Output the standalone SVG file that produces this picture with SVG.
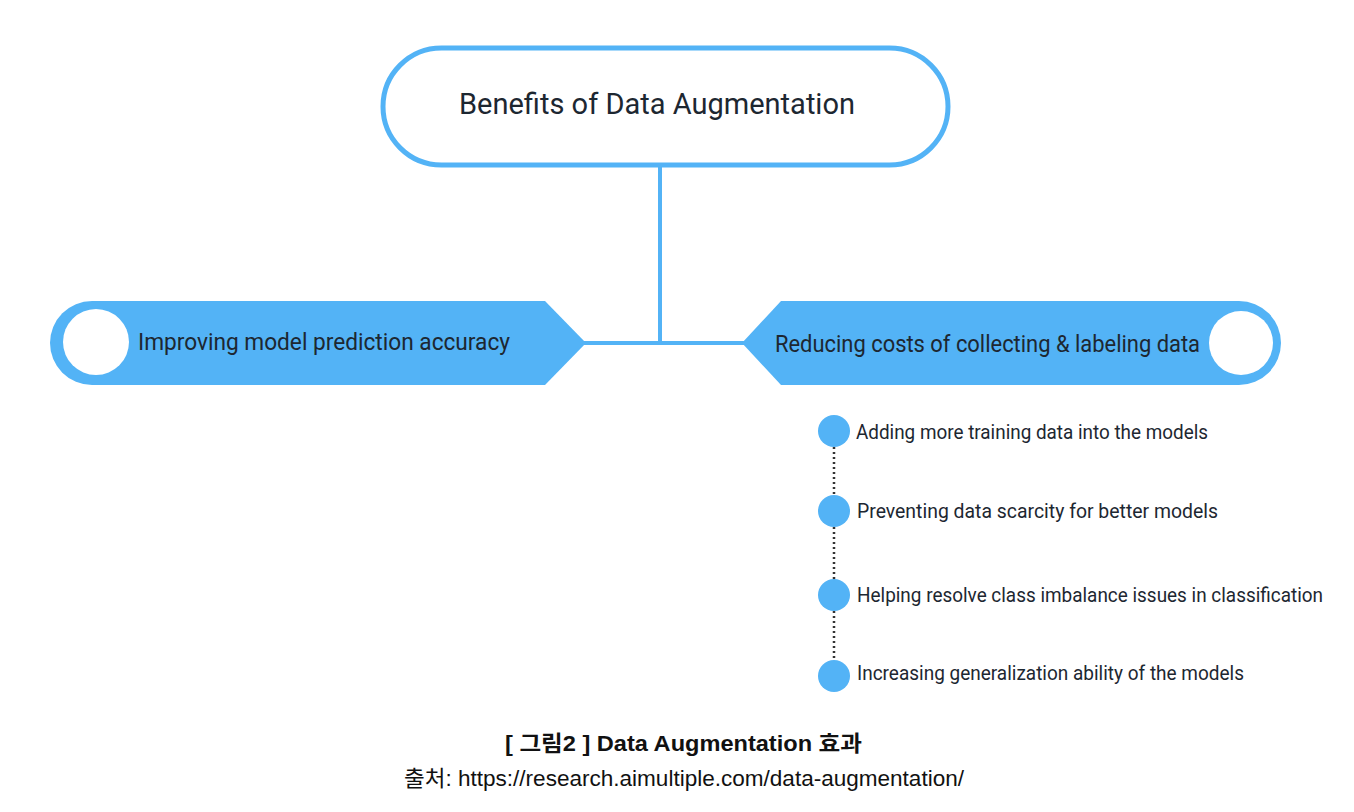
<svg xmlns="http://www.w3.org/2000/svg" width="1354" height="812" viewBox="0 0 1354 812">
<style>
.bl{fill:#53b3f6}
.wh{fill:#ffffff}
.t{font-family:Roboto,"Liberation Sans",sans-serif;fill:#1d2731}
.conn{stroke:#53b3f6;stroke-width:4;fill:none}
.dot{stroke:#333;stroke-width:2.5;stroke-dasharray:2 3;fill:none}
.cap{font-family:"Liberation Sans","Noto Sans CJK KR",sans-serif;fill:#111}
</style>
<rect width="1354" height="812" fill="#fff"/>
<g id="connectors">
<line class="conn" x1="660" y1="166" x2="660" y2="345"/>
<line class="conn" x1="583" y1="343" x2="746" y2="343"/>
<line class="dot" x1="834" y1="447" x2="834" y2="495"/>
<line class="dot" x1="834" y1="527" x2="834" y2="579"/>
<line class="dot" x1="834" y1="611" x2="834" y2="660"/>
</g>
<g id="title">
<rect x="383" y="48" width="565" height="117" rx="58.5" fill="#fff" stroke="#53b3f6" stroke-width="5"/>
<text class="t" x="459" y="114" font-size="29" textLength="396" lengthAdjust="spacingAndGlyphs">Benefits of Data Augmentation</text>
</g>
<g id="left-banner">
<path class="bl" d="M92,301 H545 L586,343 L545,385 H92 A42,42 0 0 1 92,301 Z"/>
<circle class="wh" cx="96" cy="342" r="33"/>
<text class="t" x="138" y="350" font-size="24" textLength="372" lengthAdjust="spacingAndGlyphs">Improving model prediction accuracy</text>
</g>
<g id="right-banner">
<path class="bl" d="M742,343 L781,301 H1239 A42,42 0 0 1 1239,385 H781 Z"/>
<circle class="wh" cx="1241" cy="343" r="32"/>
<text class="t" x="775" y="352" font-size="24" textLength="425" lengthAdjust="spacingAndGlyphs">Reducing costs of collecting &amp; labeling data</text>
</g>
<g id="item1">
<circle class="bl" cx="834" cy="431" r="16"/>
<text class="t" x="856" y="439" font-size="19.5" textLength="352" lengthAdjust="spacingAndGlyphs">Adding more training data into the models</text>
</g>
<g id="item2">
<circle class="bl" cx="834" cy="511" r="16"/>
<text class="t" x="857" y="518" font-size="19.5" textLength="361" lengthAdjust="spacingAndGlyphs">Preventing data scarcity for better models</text>
</g>
<g id="item3">
<circle class="bl" cx="834" cy="595" r="16"/>
<text class="t" x="857" y="602" font-size="19.5" textLength="466" lengthAdjust="spacingAndGlyphs">Helping resolve class imbalance issues in classification</text>
</g>
<g id="item4">
<circle class="bl" cx="834" cy="676" r="16"/>
<text class="t" x="857" y="680" font-size="19.5" textLength="387" lengthAdjust="spacingAndGlyphs">Increasing generalization ability of the models</text>
</g>
<g id="caption">
<text class="cap" x="505" y="751" font-size="22" font-weight="bold" textLength="357" lengthAdjust="spacingAndGlyphs">[ 그림2 ] Data Augmentation 효과</text>
<text class="cap" x="404" y="786" font-size="22" textLength="560" lengthAdjust="spacingAndGlyphs">출처: https://research.aimultiple.com/data-augmentation/</text>
</g>
</svg>
